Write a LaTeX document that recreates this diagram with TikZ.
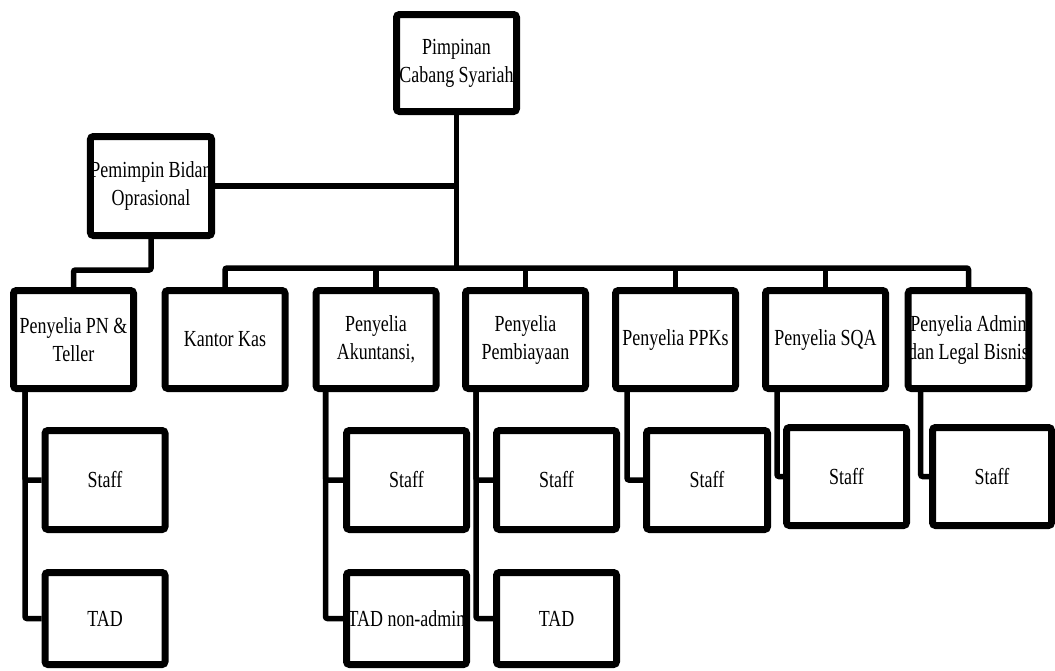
\documentclass[tikz,border=0pt]{standalone}
\usepackage{fontspec}
\setmainfont{Liberation Serif}[FakeStretch=0.78]
\usetikzlibrary{positioning,calc}

\begin{document}
\begin{tikzpicture}[x=1pt, y=-1pt,
    unit/.style={draw, line width=7pt, rounded corners=3pt, fill=white, inner sep=0pt,
        minimum width=120pt, minimum height=#1, align=center,
        font=\fontsize{23pt}{28pt}\selectfont},
    unit/.default=98pt,
    conn/.style={line width=5.5pt, rounded corners=2pt},
]
\useasboundingbox (0,0) rectangle (1055,670);

% --- Top ---
\node[unit=97pt] (pimpinan) at (456.5,63) {Pimpinan\\Cabang Syariah};
\node[unit=99pt, minimum width=121pt] (pemimpin_ops) at (151,186) {Pemimpin Bidan\\Oprasional};

% --- Penyelia row ---
\node[unit] (pn_teller) at (73.5,339.5) {Penyelia PN \&\\Teller};
\node[unit] (kantor_kas) at (225,339.5) {Kantor Kas};
\node[unit] (akuntansi) at (376,339.5) {Penyelia\\Akuntansi,};
\node[unit] (pembiayaan) at (525.5,339.5) {Penyelia\\Pembiayaan};
\node[unit] (ppks) at (675.5,339.5) {Penyelia PPKs};
\node[unit] (sqa) at (825.5,339.5) {Penyelia SQA};
\node[unit] (admin_legal) at (968.5,339.5) {Penyelia Admin\\dan Legal Bisnis};

% --- Staff row ---
\node[unit=99pt] (staff_pn) at (105,480) {Staff};
\node[unit=99pt] (staff_akt) at (406.5,480) {Staff};
\node[unit=99pt] (staff_pmb) at (556.5,480) {Staff};
\node[unit=99pt, minimum width=121pt] (staff_ppk) at (707,480) {Staff};
\node[unit] (staff_sqa) at (846.5,476.5) {Staff};
\node[unit, minimum width=119pt] (staff_adm) at (992,476.5) {Staff};

% --- TAD row ---
\node[unit=92pt] (tad_pn) at (105,618.5) {TAD};
\node[unit=92pt] (tad_akt) at (406.5,618.5) {TAD non-admin};
\node[unit=92pt] (tad_pmb) at (556.5,618.5) {TAD};

% --- Connectors ---
\coordinate (hub) at (456.5,268);
\draw[conn] (pimpinan.south) -- (hub);
\draw[conn] (pemimpin_ops.east) -- (pemimpin_ops.east -| hub);
\draw[conn] (pemimpin_ops.south) -- ++(0,31) -| (pn_teller.north);
\draw[conn] (kantor_kas.north) |- (hub) -| (admin_legal.north);
\draw[conn] (akuntansi.north) -- (akuntansi.north |- hub);
\draw[conn] (pembiayaan.north) -- (pembiayaan.north |- hub);
\draw[conn] (ppks.north) -- (ppks.north |- hub);
\draw[conn] (sqa.north) -- (sqa.north |- hub);

% staff and TAD branches
\draw[conn] ($(pn_teller.south west)+(15,0)$) |- (tad_pn.west);
\draw[conn] ($(pn_teller.south west)+(15,0)$) |- (staff_pn.west);
\draw[conn] ($(akuntansi.south west)+(13,0)$) |- (tad_akt.west);
\draw[conn] ($(akuntansi.south west)+(13,0)$) |- (staff_akt.west);
\draw[conn] ($(pembiayaan.south west)+(14,0)$) |- (tad_pmb.west);
\draw[conn] ($(pembiayaan.south west)+(14,0)$) |- (staff_pmb.west);
\draw[conn] ($(ppks.south west)+(15,0)$) |- (staff_ppk.west);
\draw[conn] ($(sqa.south west)+(15,0)$) |- (staff_sqa.west);
\draw[conn] ($(admin_legal.south west)+(16,0)$) |- (staff_adm.west);

\end{tikzpicture}
\end{document}
